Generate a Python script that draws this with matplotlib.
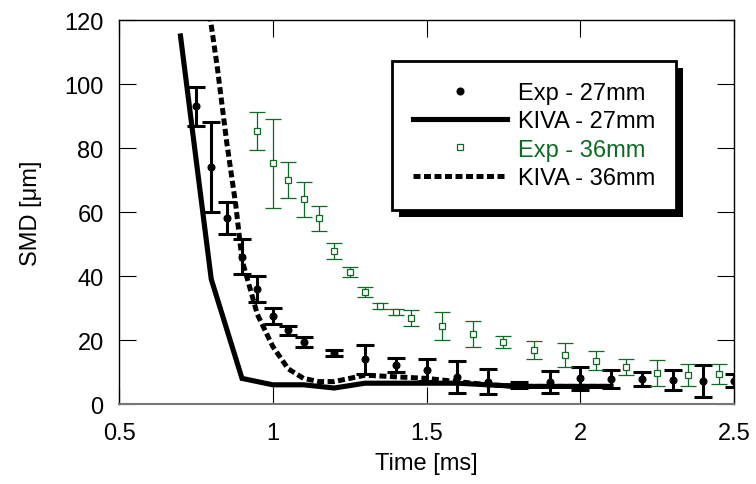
import matplotlib
matplotlib.use("Agg")
import matplotlib.pyplot as plt
from matplotlib.patches import Rectangle

plt.rcParams['font.family'] = ['Liberation Sans', 'DejaVu Sans']

# Exp - 27mm (time [ms], SMD [um], error)
exp27_t = [0.75, 0.80, 0.85, 0.90, 0.95, 1.00, 1.05, 1.10, 1.20, 1.30, 1.40, 1.50,
           1.60, 1.70, 1.80, 1.90, 2.00, 2.10, 2.20, 2.30, 2.40, 2.50]
exp27_d = [93, 74, 58, 46, 36, 27.5, 23, 19.3, 16, 14, 12.2, 10.6,
           8.4, 7, 6, 6.8, 8, 7.8, 7.8, 7.5, 7.3, 7.3]
exp27_e = [6, 14, 5, 5.5, 4, 2.5, 1.5, 1.5, 1, 4.5, 2.2, 3.5,
           5, 3.8, 1, 3.5, 3.5, 2.8, 2.2, 3, 5, 2]

# Exp - 36mm
exp36_t = [0.95, 1.00, 1.05, 1.10, 1.15, 1.20, 1.25, 1.30, 1.35, 1.40, 1.45,
           1.55, 1.65, 1.75, 1.85, 1.95, 2.05, 2.15, 2.25, 2.35, 2.45]
exp36_d = [85.4, 75.2, 70, 64, 58, 47.8, 41.2, 35, 30.7, 28.8, 27,
           24.4, 21.8, 19.4, 16.9, 15.3, 13.5, 11.5, 9.7, 9.1, 9.4]
exp36_e = [6, 14, 5.5, 5.5, 4, 2.5, 1.5, 1.5, 1, 1, 2.5,
           4.5, 4, 2, 2.7, 3.7, 3, 2.5, 4, 3.5, 3]

# KIVA - 27mm
kiva27_t = [0.70, 0.80, 0.90, 1.00, 1.10, 1.20, 1.30, 1.40, 1.50, 1.60,
            1.70, 1.80, 1.90, 2.00, 2.10]
kiva27_d = [115, 39, 8, 6, 6, 5, 6.5, 6.5, 6.5, 6.5, 6, 5.5, 5.5, 5.5, 5.5]

# KIVA - 36mm
kiva36_t = [0.79, 0.82, 0.85, 0.88, 0.90, 0.95, 1.00, 1.05, 1.10, 1.15, 1.20,
            1.30, 1.40, 1.50, 1.60, 1.70, 1.80, 1.90, 2.00, 2.10]
kiva36_d = [125, 105, 82, 62, 45, 28, 18, 11, 8, 7, 7,
            9, 8.5, 8, 7, 6, 5.5, 5.5, 5.5, 5.5]

green = '#0b6b22'

fig = plt.figure(figsize=(7.56, 4.85), dpi=100)
ax = fig.add_axes([119/756, 1-405/485, (734-119)/756, (405-21)/485])

# error bars
ax.errorbar(exp27_t, exp27_d, yerr=exp27_e, fmt='none', ecolor='black',
            elinewidth=2.2, capsize=6.5, capthick=2.2, zorder=3)
ax.errorbar(exp36_t, exp36_d, yerr=exp36_e, fmt='none', ecolor=green,
            elinewidth=0.9, capsize=6, capthick=0.9, zorder=3)

# model lines
ax.plot(kiva27_t, kiva27_d, color='black', lw=3.7, solid_joinstyle='miter',
        label='KIVA - 27mm', zorder=2)
ax.plot(kiva36_t, kiva36_d, color='black', lw=3.6, dashes=(1.4, 0.7),
        dash_capstyle='butt', label='KIVA - 36mm', zorder=2)

# markers
ax.plot(exp27_t, exp27_d, 'o', color='black', ms=4.8, ls='none',
        label='Exp - 27mm', zorder=4)
ax.plot(exp36_t, exp36_d, 's', mfc='white', mec=green, mew=0.9,
        ms=4.2, ls='none', label='Exp - 36mm', zorder=4)

ax.set_xlim(0.5, 2.5)
ax.set_ylim(0, 120)
ax.set_xticks([0.5, 1, 1.5, 2, 2.5])
ax.set_xticklabels(['0.5', '1', '1.5', '2', '2.5'])
ax.set_yticks(range(0, 121, 20))
ax.tick_params(direction='in', length=12, width=0.8, labelsize=17,
               top=True, right=True)
ax.tick_params(axis='x', pad=13)
ax.tick_params(axis='y', pad=11)
for s in ax.spines.values():
    s.set_linewidth(1.0)
ax.spines['bottom'].set_color('#777777')
ax.spines['bottom'].set_linewidth(1.5)

ax.set_xlabel('Time [ms]', fontsize=17, labelpad=6)
ax.set_ylabel('SMD [μm]', fontsize=17, labelpad=16)

handles, labels = ax.get_legend_handles_labels()
order = ['Exp - 27mm', 'KIVA - 27mm', 'Exp - 36mm', 'KIVA - 36mm']
hmap = dict(zip(labels, handles))
leg = ax.legend([hmap[k] for k in order], order, loc='upper left',
                bbox_to_anchor=((392-119)/615, (405-62)/384),
                borderaxespad=0, fontsize=17, handlelength=4.0,
                handletextpad=0.45, labelspacing=0.27, borderpad=0.88,
                numpoints=1, fancybox=False, framealpha=1, edgecolor='black')
leg.get_frame().set_linewidth(2.0)
leg.set_zorder(10)
leg.get_texts()[2].set_color(green)

# drop shadow behind legend box
fig.canvas.draw()
bb = leg.get_frame().get_window_extent()
shadow = Rectangle((bb.x0 + 7, bb.y0 - 7), bb.width, bb.height,
                   transform=None, facecolor='black', edgecolor='none',
                   zorder=9, clip_on=False)
ax.add_artist(shadow)

fig.savefig('out.png', dpi=100)
